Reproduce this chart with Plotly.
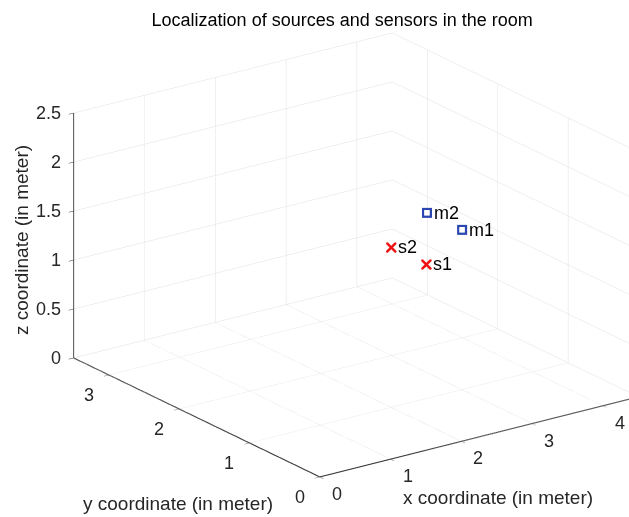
import numpy as np
import plotly.graph_objects as go

# Room extents (meters)
room = [4.5, 3.5, 2.5]
x_ticks = [0, 1, 2, 3, 4]
y_ticks = [0, 1, 2, 3]
z_ticks = [0, 0.5, 1, 1.5, 2, 2.5]
z_tick_text = ["0", "0.5", "1", "1.5", "2", "2.5"]

# Sources and sensors
src_names = ["s1", "s2"]
src_x = [2.25, 2.25]
src_y = [0.75, 1.25]
src_z = [1.5, 1.5]

mic_names = ["m1", "m2"]
mic_x = [3.25, 3.25]
mic_y = [1.25, 1.75]
mic_z = [1.5, 1.5]

FONT = "Liberation Sans, Arial, sans-serif"
INK = "#262626"
AXIS = "#3a3a3a"
RED = "#ee1111"
BLUE = "#2a46b0"
TICK_SIZE = 18

fig = go.Figure()

# Dark axis edges: x and y along the floor from the origin, z at the back-left corner
axis_edges = [
    ([0, room[0]], [0, 0], [0, 0]),
    ([0, 0], [0, room[1]], [0, 0]),
    ([0, 0], [room[1], room[1]], [0, room[2]]),
]
for ex, ey, ez in axis_edges:
    fig.add_trace(go.Scatter3d(
        x=ex, y=ey, z=ez, mode="lines",
        line=dict(color=AXIS, width=2.2),
        hoverinfo="skip", showlegend=False))

fig.add_trace(go.Scatter3d(
    x=src_x, y=src_y, z=src_z, mode="markers",
    marker=dict(symbol="x", size=2.3, color=RED,
                line=dict(width=1.2, color=RED)),
    hovertext=src_names, showlegend=False))
# open square drawn as blue square with white core
fig.add_trace(go.Scatter3d(
    x=mic_x, y=mic_y, z=mic_z, mode="markers",
    marker=dict(symbol="square", size=5.2, color=BLUE),
    hovertext=mic_names, showlegend=False))
fig.add_trace(go.Scatter3d(
    x=mic_x, y=mic_y, z=mic_z, mode="markers",
    marker=dict(symbol="square", size=2.9, color="white"),
    hoverinfo="skip", showlegend=False))

# Orthographic view direction (azimuth / elevation of the eye)
az = np.deg2rad(234.2)
el = np.deg2rad(20.4)
d = np.array([np.cos(el) * np.cos(az), np.cos(el) * np.sin(az), np.sin(el)])
right = np.array([-np.sin(az), np.cos(az), 0.0])
up = np.array([-np.sin(el) * np.cos(az), -np.sin(el) * np.sin(az), np.cos(el)])
zoom = 1.52
px_per_unit = 255.0
# shift the box right and slightly up inside the canvas
center = -(41.0 / px_per_unit) * right - (3.5 / px_per_unit) * up
eye = center + 2.0 * d

axis_common = dict(showgrid=True, gridcolor="#e0e0e0", gridwidth=1,
                   showbackground=False, zeroline=False, showspikes=False,
                   showline=True, linecolor=AXIS, linewidth=2,
                   ticks="outside", tickcolor=AXIS, ticklen=6,
                   showticklabels=False, title=dict(text=""))

# Upright tick labels placed at the tick positions on the axis edges
tick_font = dict(family=FONT, size=TICK_SIZE, color=INK)
scene_ann = []
for v in x_ticks:
    scene_ann.append(dict(x=v, y=0, z=0, text=str(v), showarrow=False,
                          xanchor="center", yanchor="middle",
                          xshift=17, yshift=-17, font=tick_font))
for v in y_ticks:
    scene_ann.append(dict(x=0, y=v, z=0, text=str(v), showarrow=False,
                          xanchor="center", yanchor="middle",
                          xshift=-20, yshift=-20, font=tick_font))
for v, t in zip(z_ticks, z_tick_text):
    scene_ann.append(dict(x=0, y=room[1], z=v, text=t, showarrow=False,
                          xanchor="right", yanchor="middle",
                          xshift=-11, yshift=0, font=tick_font))
# point names next to the markers
pt_font = dict(family=FONT, size=18, color="black")
for names, xs, ys, zs in ((src_names, src_x, src_y, src_z),
                          (mic_names, mic_x, mic_y, mic_z)):
    for n, a, b, c in zip(names, xs, ys, zs):
        scene_ann.append(dict(x=a, y=b, z=c, text=n, showarrow=False,
                              xanchor="left", yanchor="middle",
                              xshift=5, yshift=0, font=pt_font))

label_font = dict(family=FONT, size=19, color=INK)
fig.update_layout(
    width=629, height=517,
    margin=dict(l=0, r=0, t=0, b=0),
    paper_bgcolor="white",
    title=dict(text="Localization of sources and sensors in the room",
               x=0.544, xanchor="center", y=0.962, yanchor="middle",
               font=dict(family=FONT, size=18, color="black")),
    annotations=[
        dict(text="x coordinate (in meter)", x=498 / 629, y=1 - 497 / 517,
             xref="paper", yref="paper", showarrow=False,
             xanchor="center", yanchor="middle", font=label_font),
        dict(text="y coordinate (in meter)", x=178 / 629, y=1 - 503 / 517,
             xref="paper", yref="paper", showarrow=False,
             xanchor="center", yanchor="middle", font=label_font),
        dict(text="z coordinate (in meter)", x=22 / 629, y=1 - 240 / 517,
             xref="paper", yref="paper", showarrow=False, textangle=-90,
             xanchor="center", yanchor="middle", font=label_font),
    ],
    scene=dict(
        domain=dict(x=[0, 1], y=[0, 1]),
        xaxis=dict(range=[0, room[0]], tickvals=x_ticks, **axis_common),
        yaxis=dict(range=[0, room[1]], tickvals=y_ticks, **axis_common),
        zaxis=dict(range=[0, room[2]], tickvals=z_ticks, **axis_common),
        aspectmode="manual",
        aspectratio=dict(x=1.0 * zoom, y=1.071 * zoom, z=0.665 * zoom),
        camera=dict(eye=dict(x=eye[0], y=eye[1], z=eye[2]),
                    center=dict(x=center[0], y=center[1], z=center[2]),
                    up=dict(x=0, y=0, z=1),
                    projection=dict(type="orthographic")),
        annotations=scene_ann,
    ),
)
fig.write_html("out.html")
